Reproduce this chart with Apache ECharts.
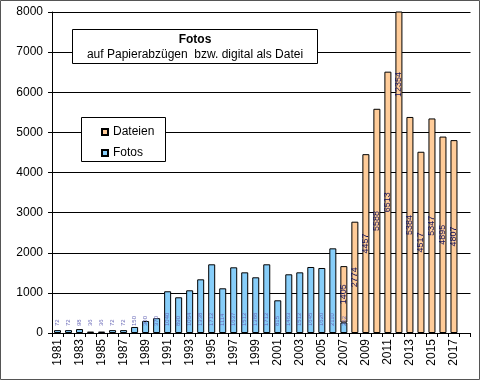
<!DOCTYPE html>
<html><head><meta charset="utf-8">
<script src="https://cdn.jsdelivr.net/npm/echarts@6/dist/echarts.min.js"></script>
<style>html,body{margin:0;padding:0;background:#fff}#c{width:480px;height:380px}</style>
</head><body><div id="c"></div>
<script>
var years = ['1981','1982','1983','1984','1985','1986','1987','1988','1989','1990',
 '1991','1992','1993','1994','1995','1996','1997','1998','1999','2000',
 '2001','2002','2003','2004','2005','2006','2007','2008','2009','2010',
 '2011','2012','2013','2014','2015','2016','2017',''];
var fotos = [72,72,98,36,36,72,72,150,300,370,
 1040,890,1064,1338,1712,1114,1637,1512,1388,1712,
 815,1463,1512,1645,1620,2110,262,null,null,null,
 null,null,null,null,null,null,null];
var dateien = [null,null,null,null,null,null,null,null,null,null,
 null,null,null,null,null,null,null,null,null,null,
 null,null,null,null,null,null,1405,2774,4457,5588,
 6513,12354,5384,4517,5347,4895,4807];
var yTicks = [0,1000,2000,3000,4000,5000,6000,7000,8000];

var FONT = 'Liberation Sans';
var chart = echarts.init(document.getElementById('c'), null, {renderer:'canvas'});

var dateienData = dateien.map(function(v){
  if (v !== null && v > yTicks[yTicks.length-1]) {
    return {value: v, label: {position: ['50%', 73], align:'center', verticalAlign:'middle'}};
  }
  return v;
});

chart.setOption({
  backgroundColor: '#fff',
  animation: false,
  grid: {left: 52, right: 9.5, top: 12, bottom: 47},
  legend: {
    data: ['Dateien','Fotos'],
    orient: 'vertical',
    left: 96, top: 121,
    itemWidth: 6, itemHeight: 6, itemGap: 9,
    icon: 'rect',
    z: 10,
    textStyle: {fontFamily: FONT, fontSize: 12, color: '#000'}
  },
  xAxis: {
    type: 'category',
    data: years,
    boundaryGap: true,
    axisLine: {lineStyle: {color: '#000', width: 1}},
    axisTick: {show: true, interval: 0, length: 4, lineStyle: {color: '#000'}},
    axisLabel: {interval: 1, rotate: 90, margin: 6, fontFamily: FONT, fontSize: 12, color: '#000'},
    splitLine: {show: false}
  },
  yAxis: {
    type: 'value',
    min: 0, max: 8000, interval: 1000,
    axisLine: {show: true, lineStyle: {color: '#000', width: 1}},
    axisTick: {show: true, length: 4, lineStyle: {color: '#000'}},
    axisLabel: {margin: 9, fontFamily: FONT, fontSize: 12, color: '#000',
      formatter: function(v){ return String(v); }},
    splitLine: {show: true, lineStyle: {color: '#000', width: 1}}
  },
  series: [
    {
      name: 'Fotos', type: 'bar', stack: 'a', data: fotos, barWidth: 7,
      itemStyle: {color: '#87CEFA', borderColor: '#000', borderWidth: 1},
      label: {show: true, position: 'insideBottom', distance: 7, rotate: 90,
        align: 'left', verticalAlign: 'middle',
        fontFamily: FONT, fontSize: 6, color: '#6a6ab8'}
    },
    {
      name: 'Dateien', type: 'bar', stack: 'a', data: dateienData, barWidth: 7,
      itemStyle: {color: '#FFCC99', borderColor: '#000', borderWidth: 1},
      label: {show: true, position: 'inside', rotate: 90,
        fontFamily: FONT, fontSize: 9, color: '#10105a'}
    }
  ],
  graphic: [
    {type: 'rect', z: 5, shape: {x: 72.5, y: 29.5, width: 245, height: 34},
     style: {fill: '#fff', stroke: '#000', lineWidth: 1}},
    {type: 'text', z: 6, x: 195, y: 40,
     style: {text: 'Fotos', font: 'bold 12px "Liberation Sans"', fill: '#000', textAlign: 'center', textVerticalAlign: 'middle'}},
    {type: 'text', z: 6, x: 195, y: 55,
     style: {text: 'auf Papierabzügen  bzw. digital als Datei', font: '12px "Liberation Sans"', fill: '#000', textAlign: 'center', textVerticalAlign: 'middle'}},
    {type: 'rect', z: 5, shape: {x: 81.5, y: 117.5, width: 84, height: 44},
     style: {fill: '#fff', stroke: '#000', lineWidth: 1}},
    {type: 'rect', z: 100, shape: {x: 0.5, y: 0.5, width: 479, height: 379},
     style: {fill: 'none', stroke: '#555', lineWidth: 1}}
  ]
});
</script></body></html>
